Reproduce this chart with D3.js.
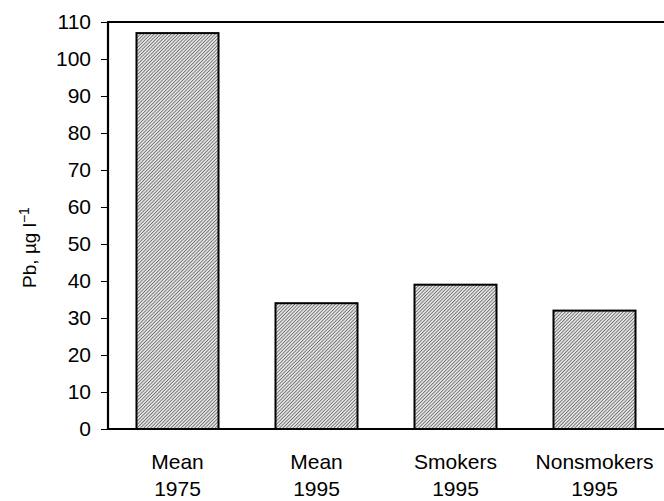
<!DOCTYPE html>
<html>
<head>
<meta charset="utf-8">
<script src="https://cdn.jsdelivr.net/npm/d3@7"></script>
<style>
  body { margin: 0; background: #fff; }
  svg { display: block; font-family: Arial, "Liberation Sans", sans-serif; }
</style>
</head>
<body>
<div id="chart"></div>
<script>
// Data
const groups = ["Mean", "Mean", "Smokers", "Nonsmokers"];
const years = ["1975", "1995", "1995", "1995"];
const values = [107, 34, 39, 32];
const yTicks = [0, 10, 20, 30, 40, 50, 60, 70, 80, 90, 100, 110];

const width = 664, height = 501;
const margin = { top: 22, right: 0, bottom: 72, left: 108 };
const innerW = width - margin.left - margin.right;
const innerH = height - margin.top - margin.bottom;

const svg = d3.select("#chart").append("svg")
    .attr("width", width)
    .attr("height", height);

// fine diagonal hatch for the bars
const defs = svg.append("defs");
const pat = defs.append("pattern")
    .attr("id", "hatch")
    .attr("patternUnits", "userSpaceOnUse")
    .attr("width", 2.4)
    .attr("height", 2.4)
    .attr("patternTransform", "rotate(45)");
pat.append("rect").attr("width", 2.4).attr("height", 2.4).attr("fill", "#e2e2e2");
pat.append("line")
    .attr("x1", 0.4).attr("y1", 0).attr("x2", 0.4).attr("y2", 2.4)
    .attr("stroke", "#6e6e6e").attr("stroke-width", 0.8);

const g = svg.append("g").attr("transform", `translate(${margin.left},${margin.top})`);

const idx = values.map((d, i) => i);
const x = d3.scaleBand().domain(idx).range([0, innerW]).paddingInner(0.41).paddingOuter(0.205);
const y = d3.scaleLinear().domain([0, 110]).range([innerH, 0]);

// bars
g.selectAll(".bar")
    .data(idx)
    .enter()
    .append("rect")
    .attr("class", "bar")
    .attr("x", i => x(i))
    .attr("y", i => y(values[i]))
    .attr("width", x.bandwidth())
    .attr("height", i => innerH - y(values[i]))
    .attr("fill", "url(#hatch)")
    .attr("stroke", "#000")
    .attr("stroke-width", 2);

// y axis
const yAxis = d3.axisLeft(y).tickValues(yTicks).tickSize(7).tickPadding(10);
const ya = g.append("g").attr("class", "y-axis").call(yAxis);
ya.select(".domain").remove();
ya.selectAll(".tick line").attr("stroke", "#000").attr("stroke-width", 1);
ya.selectAll(".tick text")
    .attr("font-size", 21)
    .attr("font-family", "Arial, 'Liberation Sans', sans-serif")
    .attr("fill", "#000");

// frame lines: left, top, bottom
g.append("line").attr("x1", 0).attr("x2", 0).attr("y1", y(110)).attr("y2", y(0))
    .attr("stroke", "#000").attr("stroke-width", 2.2);
g.append("line").attr("x1", -1).attr("x2", innerW).attr("y1", y(110)).attr("y2", y(110))
    .attr("stroke", "#000").attr("stroke-width", 2.2);
g.append("line").attr("x1", -1).attr("x2", innerW).attr("y1", y(0)).attr("y2", y(0))
    .attr("stroke", "#000").attr("stroke-width", 2.2);

// category labels (two lines)
const lab = g.selectAll(".xlab")
    .data(idx)
    .enter()
    .append("text")
    .attr("class", "xlab")
    .attr("text-anchor", "middle")
    .attr("font-size", 21)
    .attr("fill", "#000");
lab.append("tspan")
    .attr("x", i => x(i) + x.bandwidth() / 2)
    .attr("y", innerH + 40)
    .text(i => groups[i]);
lab.append("tspan")
    .attr("x", i => x(i) + x.bandwidth() / 2)
    .attr("y", innerH + 67)
    .text(i => years[i]);

// y axis title
const yt = svg.append("text")
    .attr("transform", `translate(36,${margin.top + innerH / 2 + 22}) rotate(-90)`)
    .attr("text-anchor", "middle")
    .attr("font-size", 19)
    .attr("fill", "#000");
yt.append("tspan").text("Pb, µg l");
yt.append("tspan").attr("dy", -7).attr("font-size", 14).text("−1");
</script>
</body>
</html>
